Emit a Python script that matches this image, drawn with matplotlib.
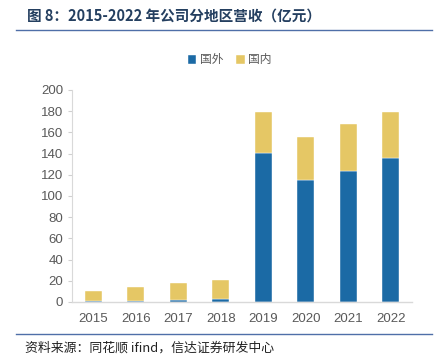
import matplotlib
matplotlib.use("Agg")
import matplotlib.pyplot as plt
import numpy as np

plt.rcParams['font.family'] = ['Liberation Sans', 'Noto Sans CJK SC', 'DejaVu Sans']

years = ['2015', '2016', '2017', '2018', '2019', '2020', '2021', '2022']
foreign = [1, 1, 2, 3, 141, 115.5, 123.5, 136]
domestic = [9, 13, 15.5, 17.5, 38, 40.5, 44, 43]
yticks = [0, 20, 40, 60, 80, 100, 120, 140, 160, 180, 200]

title = '图 8：2015-2022 年公司分地区营收（亿元）'
source = '资料来源：同花顺 ifind，信达证券研发中心'
labels = ['国外', '国内']

blue = '#1B6AA5'
yellow = '#E5C765'

fig = plt.figure(figsize=(4.39, 3.6), dpi=100)
ax = fig.add_axes([72/439, 1-302/360, (412-72)/439, (302-90)/360])

x = np.arange(len(years))
ax.bar(x, foreign, width=0.4, color=blue, edgecolor='white', linewidth=0.3, label=labels[0])
ax.bar(x, domestic, bottom=foreign, width=0.4, color=yellow, edgecolor='white', linewidth=0.3, label=labels[1])

ax.set_ylim(0, 200)
ax.set_xlim(-0.5, len(years) - 0.5)
ax.set_yticks(yticks)
ax.set_xticks(x)
ax.set_xticklabels(years)
ax.tick_params(axis='y', colors='#D0D0D0', labelcolor='#595959', labelsize=9.5, length=3, width=0.8)
ax.tick_params(axis='x', length=0, labelcolor='#595959', labelsize=9.5, pad=8)
for s in ['top', 'right']:
    ax.spines[s].set_visible(False)
ax.spines['left'].set_color('#D9D9D9')
ax.spines['bottom'].set_color('#D9D9D9')
ax.spines['bottom'].set_linewidth(1.0)

leg = fig.legend(loc='center', bbox_to_anchor=(230/439, 1-60/360), ncol=2, frameon=False,
                 prop={'family': ['Noto Sans CJK SC'], 'size': 8.5}, handlelength=0.7, handleheight=0.7,
                 handletextpad=0.3, columnspacing=1.1)
for t in leg.get_texts():
    t.set_color('#595959')

fig.text(27/439, 1-16/360, title, fontsize=10.5, fontweight='bold', color='#243F60',
         family=['Noto Sans CJK SC', 'DejaVu Sans'], va='center', ha='left')
fig.add_artist(plt.Line2D([16/439, 432/439], [1-30/360, 1-30/360], color='#4F6FA8', linewidth=1.0))
fig.add_artist(plt.Line2D([16/439, 432/439], [1-334/360, 1-334/360], color='#4F6FA8', linewidth=1.0))
fig.text(25/439, 1-348/360, source, fontsize=9.3, color='#222222', style='italic',
         family=['Noto Sans CJK SC', 'DejaVu Sans'], va='center', ha='left')

fig.savefig('out.png', dpi=100)
